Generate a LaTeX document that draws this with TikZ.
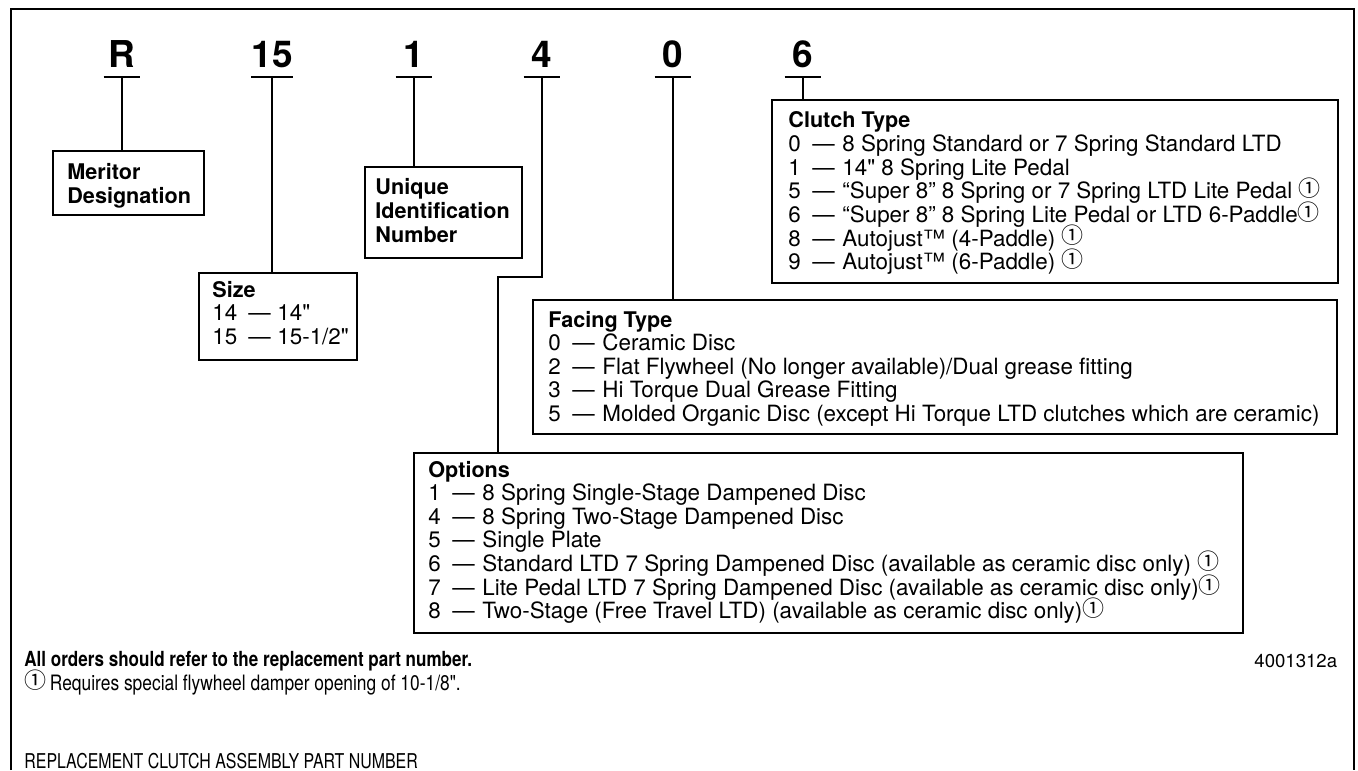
\documentclass[tikz,border=0pt]{standalone}
\usepackage{fontspec}
\setmainfont{TeX Gyre Heros}
\newfontfamily\hv{TeX Gyre Heros}
\newfontfamily\circfont{Noto Sans CJK SC}
\newfontfamily\cond[FakeStretch=0.82]{TeX Gyre Heros}
\newfontfamily\condb[FakeStretch=0.78]{TeX Gyre Heros}
\usetikzlibrary{fit}
\newcommand\Ln[1]{\hbox{#1}}
\newcommand\one{\raisebox{1pt}[0pt][0pt]{\circfont\fontsize{11}{10}\selectfont ①}}
\newcommand\ttl[1]{{\bfseries\fontsize{10.8}{11.8}\selectfont #1}}
\newcommand\itm[2]{\makebox[12pt][l]{#1}\makebox[15pt][l]{—}#2}
\begin{document}
\begin{tikzpicture}[x=0.5pt,y=-0.5pt,
  box/.style={draw, line width=1.35pt, inner sep=0pt},
  conn/.style={line width=1pt},
  digit/.style={font=\hv\bfseries\fontsize{18.5}{20}\selectfont, inner xsep=0pt, inner ysep=4.5pt, text depth=0pt, minimum width=18pt, anchor=south},
  txt/.style={inner sep=0pt, anchor=base west, font=\hv\fontsize{11.2}{11.8}\selectfont},
  lbl/.style={inner sep=0pt, anchor=base west, font=\hv\bfseries\fontsize{10.8}{11.8}\selectfont},
  note/.style={inner sep=0pt, anchor=base west, font=\cond\fontsize{10.6}{10}\selectfont}]
\useasboundingbox (0,0) rectangle (1358,770);
% outer frame
\draw[line width=1.3pt] (11,770) -- (11,9) -- (1354,9) -- (1354,770);

% header digits
\node[digit] (dR) at (122,77) {R};
\node[digit] (d15) at (272,77) {15};
\node[digit] (d1) at (414,77) {1};
\node[digit] (d4) at (542,77) {4};
\node[digit] (d0) at (673,77) {0};
\node[digit] (d6) at (803,77) {6};
\foreach \n in {dR,d15,d1,d4,d0,d6}
  \draw[conn] (\n.south west) -- (\n.south east);

% boxes
\node[box, fit={(53,151) (204,215)}] (meritor) {};
\node[box, fit={(199,273) (357,360)}] (size) {};
\node[box, fit={(365,167) (522,258)}] (unique) {};
\node[box, fit={(772,100) (1338,283)}] (clutch) {};
\node[box, fit={(533,300) (1337,434)}] (facing) {};
\node[box, fit={(414,453) (1243,633)}] (options) {};

% box texts
\node[lbl] (meritorT) at (67,180) {\vtop{\Ln{Meritor}\Ln{Designation}}};
\node[lbl] (uniqueT) at (375,195) {\vtop{\Ln{Unique}\Ln{Identification}\Ln{Number}}};
\node[txt] (sizeT) at (212,297) {\vtop{%
  \Ln{\ttl{Size}}%
  \Ln{\makebox[18pt][l]{14}\makebox[14.5pt][l]{—}14"}%
  \Ln{\makebox[18pt][l]{15}\makebox[14.5pt][l]{—}15-1/2"}}};
\node[txt] (clutchT) at (788,128) {\vtop{%
  \Ln{\ttl{Clutch Type}}%
  \Ln{\itm{0}{8 Spring Standard or 7 Spring Standard LTD}}%
  \Ln{\itm{1}{14" 8 Spring Lite Pedal}}%
  \Ln{\itm{5}{“Super 8” 8 Spring or 7 Spring LTD Lite Pedal \one}}%
  \Ln{\itm{6}{“Super 8” 8 Spring Lite Pedal or LTD 6-Paddle\one}}%
  \Ln{\itm{8}{Autojust™ (4-Paddle) \one}}%
  \Ln{\itm{9}{Autojust™ (6-Paddle) \one}}}};
\node[txt] (facingT) at (548,327) {\vtop{%
  \Ln{\ttl{Facing Type}}%
  \Ln{\itm{0}{Ceramic Disc}}%
  \Ln{\itm{2}{Flat Flywheel (No longer available)/Dual grease fitting}}%
  \Ln{\itm{3}{Hi Torque Dual Grease Fitting}}%
  \Ln{\itm{5}{Molded Organic Disc (except Hi Torque LTD clutches which are ceramic)}}}};
\node[txt] (optionsT) at (428,477) {\vtop{%
  \Ln{\ttl{Options}}%
  \Ln{\itm{1}{8 Spring Single-Stage Dampened Disc}}%
  \Ln{\itm{4}{8 Spring Two-Stage Dampened Disc}}%
  \Ln{\itm{5}{Single Plate}}%
  \Ln{\itm{6}{Standard LTD 7 Spring Dampened Disc (available as ceramic disc only) \one}}%
  \Ln{\itm{7}{Lite Pedal LTD 7 Spring Dampened Disc (available as ceramic disc only)\one}}%
  \Ln{\itm{8}{Two-Stage (Free Travel LTD) (available as ceramic disc only)\one}}}};

% connectors
\draw[conn] (dR.south) -- (dR.south |- meritor.north);
\draw[conn] (d15.south) -- (d15.south |- size.north);
\draw[conn] (d1.south) -- (d1.south |- unique.north);
\coordinate (k4) at (498,277);
\draw[conn] (d4.south) |- (k4) -- (k4 |- options.north);
\draw[conn] (d0.south) -- (d0.south |- facing.north);
\draw[conn] (d6.south) -- (d6.south |- clutch.north);

% notes
\node[note, font=\cond\bfseries\fontsize{10.4}{10}\selectfont] (orders) at (24,666) {All orders should refer to the replacement part number.};
\node[note] (foot) at (24,690) {\one\,Requires special flywheel damper opening of 10-1/8".};
\node[note, font=\hv\fontsize{9.3}{10}\selectfont] (fig) at (1254,667) {4001312a};
\node[note, font=\condb\fontsize{10.2}{10}\selectfont] (title) at (24,768) {REPLACEMENT CLUTCH ASSEMBLY PART NUMBER};
\end{tikzpicture}
\end{document}
